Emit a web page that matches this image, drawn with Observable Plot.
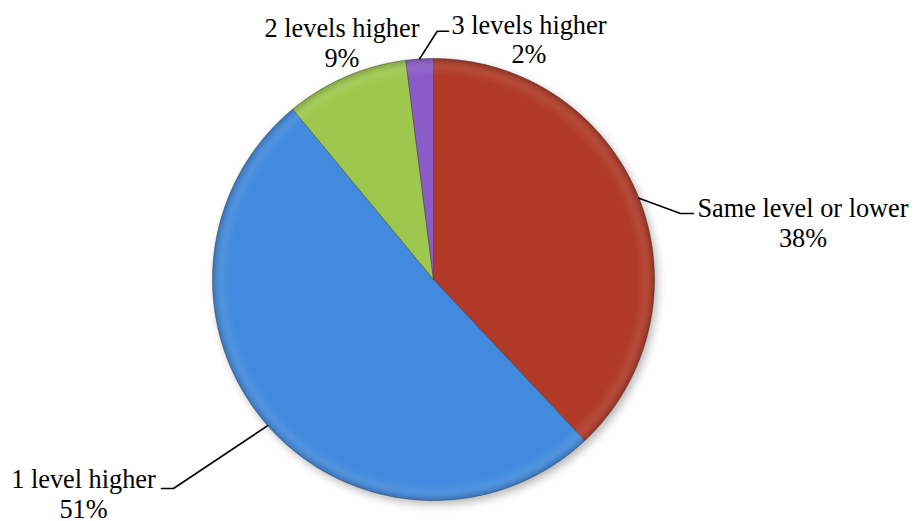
<!DOCTYPE html>
<html>
<head>
<meta charset="utf-8">
<script src="https://cdn.jsdelivr.net/npm/d3@7"></script>
<script src="https://cdn.jsdelivr.net/npm/@observablehq/plot@0.6"></script>
<style>
  html, body { margin: 0; padding: 0; background: #fff; }
  #chart svg { display: block; }
</style>
</head>
<body>
<div id="chart"></div>
<script>
// Survey answers: level reached relative to the previous one
const categories = ["Same level or lower", "1 level higher", "2 levels higher", "3 levels higher"];
const shares = [38, 51, 9, 2];

// Slice fills, in category order
const sliceColors = ["#b03a27", "#418add", "#9dc84d", "#8b5cc9"];

// Chart geometry (pixels; the pie centre is the origin of both scales)
const W = 914, H = 521;
const CX = 433, CY = 279, R = 221;
const FONT = "Liberation Serif, Times New Roman, serif";

// Label placement, relative to the pie centre, y pointing up
const labelLayout = [
  {x: 369.5, y: 57.3,  elbow: [247, 66],    end: [260, 66]},
  {x: -350,  y: -214,  elbow: [-260, -209], end: [-272, -209]},
  {x: -91.5, y: 237.3, elbow: null,         end: null},
  {x: 95.5,  y: 240.6, elbow: [3.7, 248.3], end: [15, 248.3]}
];

// Angles: clockwise from 12 o'clock, in the given order
const arcs = d3.pie().sort(null).value(d => d)(shares);

const polar = (a, r) => [r * Math.sin(a), r * Math.cos(a)];

// Slice outlines as closed polygons: centre, arc, centre
const slicePoints = [];
arcs.forEach((arc, i) => {
  const steps = Math.max(2, Math.ceil((arc.endAngle - arc.startAngle) / (Math.PI / 720)));
  slicePoints.push({category: categories[i], x: 0, y: 0});
  for (let k = 0; k <= steps; ++k) {
    const a = arc.startAngle + (arc.endAngle - arc.startAngle) * k / steps;
    const [x, y] = polar(a, R);
    slicePoints.push({category: categories[i], x, y});
  }
  slicePoints.push({category: categories[i], x: 0, y: 0});
});

// Whole-disc outline used for the shadow and rim shading
const rimPoints = d3.range(0, 721).map(k => {
  const [x, y] = polar(k / 720 * 2 * Math.PI, R);
  return {x, y};
});

// Leader lines: from the rim at each slice's mid-angle to its label
const leaderPoints = [];
arcs.forEach((arc, i) => {
  const spot = labelLayout[i];
  if (!spot.elbow) return;
  const [x0, y0] = polar((arc.startAngle + arc.endAngle) / 2, R);
  leaderPoints.push({category: categories[i], x: x0, y: y0});
  leaderPoints.push({category: categories[i], x: spot.elbow[0], y: spot.elbow[1]});
  leaderPoints.push({category: categories[i], x: spot.end[0], y: spot.end[1]});
});

const labels = categories.map((c, i) => ({
  text: `${c}\n${shares[i]}%`,
  x: labelLayout[i].x,
  y: labelLayout[i].y
}));

// Blur filter for the shadow, and rim gradient
const defs = () => {
  const d = d3.create("svg:defs");
  d.append("filter").attr("id", "pieBlur")
    .attr("x", "-20%").attr("y", "-20%").attr("width", "140%").attr("height", "140%")
    .append("feGaussianBlur").attr("stdDeviation", 4);
  const g = d.append("radialGradient").attr("id", "rimShade")
    .attr("cx", "50%").attr("cy", "50%").attr("r", "50%");
  g.append("stop").attr("offset", "0%").attr("stop-color", "#fff").attr("stop-opacity", 0);
  g.append("stop").attr("offset", "92%").attr("stop-color", "#fff").attr("stop-opacity", 0);
  g.append("stop").attr("offset", "96%").attr("stop-color", "#fff").attr("stop-opacity", 0.08);
  g.append("stop").attr("offset", "100%").attr("stop-color", "#000").attr("stop-opacity", 0.18);
  return d.node();
};

const chart = Plot.plot({
  width: W,
  height: H,
  margin: 0,
  x: {domain: [-CX, W - CX], range: [0, W], axis: null},
  y: {domain: [-(H - CY), CY], range: [H, 0], axis: null},
  color: {domain: categories, range: sliceColors},
  style: {background: "#fff"},
  marks: [
    defs,
    Plot.line(rimPoints, {
      x: "x", y: "y", fill: "#000", fillOpacity: 0.28, stroke: "none",
      dx: 3, dy: 4, ariaDescription: "shadow"
    }),
    Plot.line(slicePoints, {
      x: "x", y: "y", z: "category", fill: "category",
      stroke: "#3a3a3a", strokeOpacity: 0.45, strokeWidth: 1, curve: "linear"
    }),
    Plot.line(rimPoints, {x: "x", y: "y", fill: "url(#rimShade)", stroke: "none"}),
    Plot.line(leaderPoints, {
      x: "x", y: "y", z: "category", stroke: "#000", strokeWidth: 1.6, curve: "linear"
    }),
    Plot.text(labels, {
      x: "x", y: "y", text: "text", fontFamily: FONT,
      fontSize: 26.3, lineHeight: 1.13, fill: "#000", textAnchor: "middle"
    })
  ]
});

const shadowGroup = chart.querySelector('g[aria-description="shadow"]');
if (shadowGroup) shadowGroup.setAttribute("filter", "url(#pieBlur)");

document.getElementById("chart").appendChild(chart);
</script>
</body>
</html>
